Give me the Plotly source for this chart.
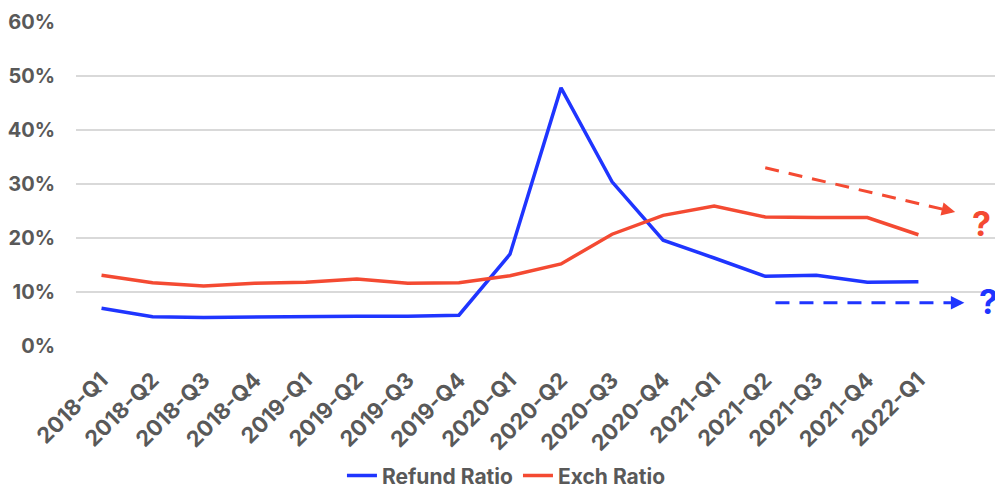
import plotly.graph_objects as go

# Quarterly return ratios
quarters = [
    "2018-Q1", "2018-Q2", "2018-Q3", "2018-Q4",
    "2019-Q1", "2019-Q2", "2019-Q3", "2019-Q4",
    "2020-Q1", "2020-Q2", "2020-Q3", "2020-Q4",
    "2021-Q1", "2021-Q2", "2021-Q3", "2021-Q4",
    "2022-Q1",
]
refund_ratio = [0.070, 0.054, 0.053, 0.054, 0.055, 0.055, 0.055, 0.057,
                0.170, 0.478, 0.304, 0.196, 0.163, 0.129, 0.131, 0.118,
                0.119]
exch_ratio = [0.131, 0.117, 0.111, 0.116, 0.118, 0.124, 0.116, 0.117,
              0.130, 0.152, 0.207, 0.242, 0.259, 0.239, 0.238, 0.238,
              0.206]

# Trend hints (start/end in category index and ratio)
exch_trend = {"x0": 13.0, "y0": 0.330, "x1": 16.72, "y1": 0.248}
refund_trend = {"x0": 13.2, "y0": 0.080, "x1": 16.9, "y1": 0.080}

BLUE = "#1F35FF"
RED = "#F44A32"
GRAY = "#595959"
FONT = "Inter"

fig = go.Figure()
fig.add_trace(go.Scatter(x=quarters, y=refund_ratio, mode="lines",
                         name="Refund Ratio",
                         line=dict(color=BLUE, width=3.5)))
fig.add_trace(go.Scatter(x=quarters, y=exch_ratio, mode="lines",
                         name="Exch Ratio",
                         line=dict(color=RED, width=3.5)))


def trend_arrow(t, color):
    slope = (t["y1"] - t["y0"]) / (t["x1"] - t["x0"])
    back = 0.2
    # dashed shaft
    fig.add_shape(type="line", xref="x", yref="y",
                  x0=t["x0"], y0=t["y0"],
                  x1=t["x1"] - back, y1=t["y1"] - slope * back,
                  line=dict(color=color, width=3, dash="14px,10px"))
    # arrow head
    fig.add_annotation(x=t["x1"], y=t["y1"],
                       ax=t["x1"] - back, ay=t["y1"] - slope * back,
                       xref="x", yref="y", axref="x", ayref="y",
                       showarrow=True, arrowhead=2, arrowsize=0.9,
                       arrowwidth=3, arrowcolor=color, text="")


trend_arrow(exch_trend, RED)
trend_arrow(refund_trend, BLUE)

fig.add_annotation(x=17.24, y=0.226, xref="x", yref="y", text="<b>?</b>",
                   showarrow=False, font=dict(family=FONT, size=34, color=RED))
fig.add_annotation(x=17.38, y=0.083, xref="x", yref="y", text="<b>?</b>",
                   showarrow=False, font=dict(family=FONT, size=34, color=BLUE))

fig.update_layout(
    width=995, height=491,
    margin=dict(l=76, r=0, t=22, b=145, autoexpand=False),
    paper_bgcolor="white", plot_bgcolor="white",
    font=dict(family=FONT, color=GRAY),
    showlegend=True,
    legend=dict(orientation="h", xref="container", x=0.509, xanchor="center",
                yref="container", y=0.031, yanchor="middle",
                font=dict(size=21, color=GRAY, weight="bold"),
                itemwidth=30, tracegroupgap=0),
)
fig.update_xaxes(type="category", categoryorder="array", categoryarray=quarters,
                 range=[-0.5, 17.5], tickangle=-45, showgrid=False,
                 showline=False, ticks="", automargin=False,
                 ticklabelstandoff=16,
                 tickfont=dict(family=FONT, size=22, color=GRAY, weight="bold"))
fig.update_yaxes(range=[0, 0.6], dtick=0.1, tickformat=".0%",
                 showgrid=True, gridcolor="#D9D9D9", gridwidth=1.5,
                 zeroline=False, showline=False, ticks="", automargin=False,
                 ticklabelstandoff=20,
                 tickfont=dict(family=FONT, size=20, color=GRAY, weight="bold"))

fig.write_html("out.html")
